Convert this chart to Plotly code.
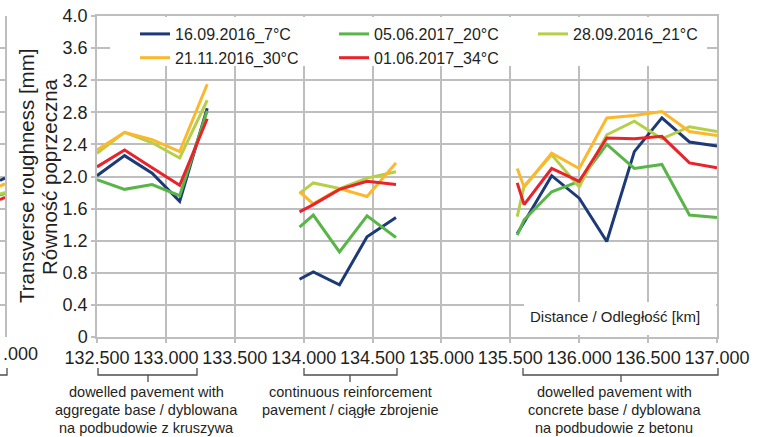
import plotly.graph_objects as go

W, H = 765, 437

def px(p):
    return p / W

def py(p):
    return 1 - p / H

# ---------------- data ----------------
series_names = ["16.09.2016_7°C", "05.06.2017_20°C", "28.09.2016_21°C",
                "21.11.2016_30°C", "01.06.2017_34°C"]
series_colors = ["#1d3a78", "#59b548", "#b6cf48", "#fcb82a", "#e8232c"]

# distance [km]; None separates the three pavement sections
km = [132.50, 132.70, 132.90, 133.10, 133.30, None,
      133.97, 134.07, 134.26, 134.46, 134.67, None,
      135.55, 135.60, 135.80, 136.00, 136.20, 136.40, 136.60, 136.80, 137.00]

s_16_09_2016 = [2.01, 2.26, 2.04, 1.69, 2.85, None,
                0.72, 0.81, 0.65, 1.25, 1.49, None,
                1.29, 1.43, 2.01, 1.73, 1.19, 2.31, 2.73, 2.43, 2.38]
s_05_06_2017 = [1.96, 1.84, 1.90, 1.76, 2.82, None,
                1.37, 1.52, 1.06, 1.51, 1.24, None,
                1.27, 1.46, 1.81, 1.94, 2.40, 2.10, 2.15, 1.52, 1.49]
s_28_09_2016 = [2.29, 2.55, 2.42, 2.23, 2.95, None,
                1.79, 1.92, 1.85, 1.98, 2.06, None,
                1.50, 1.88, 2.27, 1.87, 2.52, 2.69, 2.47, 2.62, 2.56]
s_21_11_2016 = [2.33, 2.55, 2.46, 2.31, 3.15, None,
                1.81, 1.66, 1.85, 1.75, 2.17, None,
                2.10, 1.87, 2.29, 2.10, 2.73, 2.76, 2.81, 2.56, 2.51]
s_01_06_2017 = [2.12, 2.33, 2.11, 1.89, 2.72, None,
                1.56, 1.65, 1.84, 1.94, 1.90, None,
                1.92, 1.65, 2.10, 1.94, 2.48, 2.47, 2.50, 2.17, 2.11]
series_values = [s_16_09_2016, s_05_06_2017, s_28_09_2016, s_21_11_2016, s_01_06_2017]

y_tickvals = [0, 0.4, 0.8, 1.2, 1.6, 2.0, 2.4, 2.8, 3.2, 3.6, 4.0]
y_ticktext = ["0", "0.4", "0.8", "1.2", "1.6", "2.0", "2.4", "2.8", "3.2", "3.6", "4.0"]
x_tickvals = [132.5, 133.0, 133.5, 134.0, 134.5, 135.0, 135.5, 136.0, 136.5, 137.0]

section_1_lines = ["dowelled pavement with", "aggregate base / dyblowana", "na podbudowie z kruszywa"]
section_2_lines = ["continuous reinforcement", "pavement / ciągłe zbrojenie"]
section_3_lines = ["dowelled pavement with", "concrete base / dyblowana", "na podbudowie z betonu"]
section_lines = [section_1_lines, section_2_lines, section_3_lines]

# cropped neighbouring chart at the left edge (only its last segment is visible)
frag_x = [0, 1]
frag_16_09_2016 = [1.95, 1.98]
frag_05_06_2017 = [1.77, 1.79]
frag_28_09_2016 = [1.78, 1.80]
frag_21_11_2016 = [1.88, 1.91]
frag_01_06_2017 = [1.71, 1.74]
frag_values = [frag_16_09_2016, frag_05_06_2017, frag_28_09_2016, frag_21_11_2016, frag_01_06_2017]
frag_visible_label = ".000"

# ---------------- figure ----------------
FONT = "Arial, 'Liberation Sans', sans-serif"
TXT = "#231f20"
GRID = "#bebebe"

fig = go.Figure()

for name, color, vals in zip(series_names, series_colors, series_values):
    fig.add_trace(go.Scatter(x=km, y=vals, mode="lines", name=name,
                             line=dict(color=color, width=3),
                             connectgaps=False, xaxis="x", yaxis="y"))

for color, vals in zip(series_colors, frag_values):
    fig.add_trace(go.Scatter(x=frag_x, y=vals, mode="lines", showlegend=False,
                             line=dict(color=color, width=3),
                             xaxis="x2", yaxis="y2", hoverinfo="skip"))

axis_common = dict(showgrid=True, gridcolor=GRID, gridwidth=1.5,
                   showline=True, linecolor=GRID, linewidth=1.5, mirror=True,
                   ticks="outside", ticklen=4, tickcolor=GRID, tickwidth=1.5,
                   zeroline=False, automargin=False, tickangle=0,
                   tickfont=dict(family=FONT, size=18, color=TXT))

fig.update_layout(
    width=W, height=H,
    margin=dict(l=0, r=0, t=0, b=0, autoexpand=False),
    paper_bgcolor="white", plot_bgcolor="white",
    font=dict(family=FONT, color=TXT),
    xaxis=dict(domain=[px(97), px(717)], range=[132.5, 137.0],
               tickvals=x_tickvals, tickformat=".3f", anchor="y", **axis_common),
    yaxis=dict(domain=[py(337), py(16)], range=[0, 4.0],
               tickvals=y_tickvals, ticktext=y_ticktext, anchor="x", **axis_common),
    xaxis2=dict(domain=[0, px(5)], range=[0, 1], anchor="y2",
                showgrid=False, showline=False, zeroline=False, automargin=False,
                showticklabels=False, ticks=""),
    yaxis2=dict(domain=[py(337), py(16)], range=[0, 4.0], anchor="x2", side="right",
                tickvals=y_tickvals, showticklabels=False, ticks="", automargin=False,
                showgrid=True, gridcolor=GRID, gridwidth=1.5,
                showline=True, linecolor=GRID, linewidth=1.5, zeroline=False),
    showlegend=True,
    legend=dict(orientation="h", x=px(135), y=py(17), xanchor="left", yanchor="top",
                xref="paper", yref="paper",
                bgcolor="rgba(0,0,0,0)", borderwidth=0,
                entrywidth=154, entrywidthmode="pixels",
                font=dict(family=FONT, size=16, color=TXT),
                tracegroupgap=0, itemwidth=30),
)

shapes = []
# white legend background that hides the grid
shapes.append(dict(type="rect", xref="paper", yref="paper",
                   x0=px(110), x1=px(707), y0=py(66), y1=py(17),
                   fillcolor="white", line=dict(width=0), layer="above"))
# white box behind the axis caption
shapes.append(dict(type="rect", xref="paper", yref="paper",
                   x0=px(524), x1=px(716), y0=py(335), y1=py(302),
                   fillcolor="white", line=dict(width=0), layer="above"))

# section brackets
bracket_px = [(98, 197, 148), (304, 397, 350), (523, 718, 621)]
BR = "#4d4d4d"
for x0, x1, xc in bracket_px:
    path = (f"M {px(x0)},{py(368)} L {px(x0)},{py(375)} L {px(x1)},{py(375)} L {px(x1)},{py(368)} "
            f"M {px(xc)},{py(375)} L {px(xc)},{py(382)}")
    shapes.append(dict(type="path", xref="paper", yref="paper", path=path,
                       line=dict(color=BR, width=1.3)))
# right end of neighbouring chart's bracket
shapes.append(dict(type="path", xref="paper", yref="paper",
                   path=f"M {px(0)},{py(375)} L {px(7)},{py(375)} L {px(7)},{py(368)}",
                   line=dict(color=BR, width=1.3)))
fig.update_layout(shapes=shapes)

annotations = []
label_centers = [146, 350, 614]
for lines, xc in zip(section_lines, label_centers):
    for i, line in enumerate(lines):
        annotations.append(dict(text=line, xref="paper", yref="paper",
                                x=px(xc), y=py(392 + 18 * i),
                                xanchor="center", yanchor="middle", showarrow=False,
                                font=dict(family=FONT, size=14.5, color=TXT)))
annotations.append(dict(text=frag_visible_label, xref="paper", yref="paper",
                        x=px(1), y=py(354), xanchor="left", yanchor="middle",
                        showarrow=False, font=dict(family=FONT, size=18, color=TXT)))
annotations.append(dict(text="Distance / Odległość [km]", xref="paper", yref="paper",
                        x=px(615), y=py(316), xanchor="center", yanchor="middle",
                        showarrow=False, font=dict(family=FONT, size=15, color=TXT)))
annotations.append(dict(text="Transverse roughness [mm]", xref="paper", yref="paper",
                        x=px(26), y=py(176), xanchor="center", yanchor="middle",
                        textangle=-90, showarrow=False,
                        font=dict(family=FONT, size=20.5, color=TXT)))
annotations.append(dict(text="Równość poprzeczna", xref="paper", yref="paper",
                        x=px(49), y=py(176), xanchor="center", yanchor="middle",
                        textangle=-90, showarrow=False,
                        font=dict(family=FONT, size=20.5, color=TXT)))
fig.update_layout(annotations=annotations)

fig.write_html("out.html")
